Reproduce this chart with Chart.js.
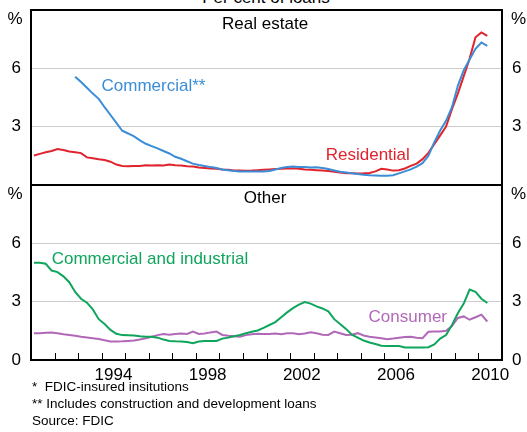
<!DOCTYPE html>
<html>
<head>
<meta charset="utf-8">
<script src="https://cdn.jsdelivr.net/npm/chart.js@4"></script>
<style>
body { margin:0; background:#fff; width:527px; height:432px; overflow:hidden; position:relative; font-family: Arial, "Liberation Sans", sans-serif; }
canvas { position:absolute; left:0; }
#title { position:absolute; top:-11px; left:0; width:532px; text-align:center; font-size:17px; line-height:17px; }
#notes { position:absolute; left:32px; top:378px; font-size:13.5px; line-height:17px; white-space:pre; }
</style>
</head>
<body>
<div id="title">Per cent of loans</div>
<canvas id="topChart" width="527" height="190" style="top:0"></canvas>
<canvas id="bottomChart" width="527" height="230" style="top:175px"></canvas>
<div id="notes">*  FDIC-insured insitutions
** Includes construction and development loans
Source: FDIC</div>
<script>
// quarterly data, first quarter = 1991 Q1
const startYear = 1991;
const labelYears = [1994, 1998, 2002, 2006, 2010];

const residential = [1.52,1.6,1.68,1.75,1.85,1.8,1.72,1.68,1.64,1.42,1.38,1.33,1.29,1.2,1.05,0.98,
  0.97,0.98,0.98,1.02,1.0,1.01,1.0,1.05,1.02,1.0,0.97,0.95,0.9,0.88,0.85,0.84,
  0.8,0.78,0.75,0.74,0.73,0.74,0.76,0.78,0.8,0.82,0.83,0.85,0.86,0.83,0.8,0.78,
  0.76,0.74,0.72,0.68,0.64,0.6,0.6,0.59,0.6,0.62,0.7,0.83,0.8,0.74,0.76,0.85,
  0.98,1.1,1.33,1.65,2.1,2.55,3.0,3.9,4.7,5.6,6.5,7.6,7.85,7.67];

const commercial = [null,null,null,null,null,null,null,5.57,5.3,5.0,4.7,4.43,4.0,3.6,3.2,2.79,
  2.65,2.5,2.3,2.12,2.0,1.88,1.75,1.62,1.45,1.35,1.22,1.1,1.03,0.98,0.92,0.87,
  0.8,0.76,0.72,0.7,0.69,0.69,0.69,0.7,0.72,0.8,0.88,0.93,0.95,0.93,0.92,0.9,
  0.91,0.88,0.82,0.75,0.68,0.64,0.6,0.56,0.53,0.5,0.49,0.48,0.48,0.5,0.6,0.7,
  0.8,0.95,1.12,1.5,2.2,2.8,3.3,4.0,5.1,5.9,6.45,7.0,7.33,7.15];

const industrial = [5.0,5.0,4.95,4.6,4.52,4.3,4.0,3.5,3.15,2.95,2.6,2.1,1.85,1.55,1.35,1.28,
  1.27,1.26,1.22,1.2,1.2,1.15,1.05,0.98,0.96,0.95,0.92,0.86,0.95,0.98,0.98,0.98,
  1.1,1.15,1.22,1.29,1.38,1.45,1.52,1.65,1.8,1.95,2.2,2.45,2.67,2.85,2.98,2.9,
  2.76,2.65,2.5,2.1,1.85,1.6,1.3,1.15,1.0,0.9,0.82,0.73,0.72,0.72,0.72,0.64,
  0.64,0.64,0.64,0.66,0.8,1.1,1.28,1.8,2.4,2.9,3.62,3.5,3.15,2.93];

const consumer = [1.38,1.38,1.4,1.41,1.38,1.32,1.29,1.25,1.2,1.16,1.12,1.08,1.02,0.95,0.95,0.96,
  0.98,1.0,1.05,1.12,1.2,1.28,1.34,1.3,1.34,1.36,1.34,1.46,1.34,1.36,1.42,1.46,
  1.29,1.25,1.22,1.2,1.28,1.32,1.35,1.34,1.34,1.36,1.33,1.38,1.38,1.33,1.36,1.43,
  1.38,1.3,1.29,1.46,1.38,1.29,1.3,1.38,1.26,1.2,1.16,1.12,1.07,1.1,1.14,1.18,
  1.2,1.15,1.12,1.45,1.46,1.47,1.5,1.75,2.16,2.24,2.07,2.2,2.33,1.98];

const BLUE = '#3a8dd6', RED = '#e0242e', GREEN = '#0fa55c', PURPLE = '#b268b8';
const FONT = '17px Arial, "Liberation Sans", sans-serif';

function points(values) {
  return values.map((v, i) => ({ x: startYear + (i + 0.5) / 4, y: v }));
}

function line(data, color) {
  return { data: points(data), borderColor: color, borderWidth: 2, pointRadius: 0, tension: 0, fill: false };
}

//Texte im Diagramm
const textPlugin = {
  id: 'texts',
  afterDraw(chart, args, opts) {
    const c = chart.ctx, x = chart.scales.x, y = chart.scales.y;
    c.save();
    c.font = FONT;
    c.textAlign = 'center';
    c.textBaseline = 'middle';
    opts.items.forEach(function (it) {
      c.fillStyle = it.color;
      c.fillText(it.text, x.getPixelForValue(it.x), y.getPixelForValue(it.y));
    });
    // Prozentzeichen
    c.fillStyle = '#000';
    const py = y.getPixelForValue(9) + 9;
    c.textAlign = 'center';
    c.fillText('%', 15, py);
    c.textAlign = 'left';
    c.fillText('%', chart.chartArea.right + 9, py);
    // Jahresmarken
    if (opts.yearTicks) {
      c.strokeStyle = '#000';
      c.lineWidth = 1;
      const b = chart.chartArea.bottom;
      for (let yr = 1992; yr <= 2010; yr++) {
        const px = Math.round(x.getPixelForValue(yr)) + 0.5;
        c.beginPath();
        c.moveTo(px, b);
        c.lineTo(px, b - 7);
        c.stroke();
      }
    }
    c.restore();
  }
};

function yScales(showZero) {
  const tickCb = function (v) {
    if (v === 9) return '';
    if (v === 0 && !showZero) return '';
    return v;
  };
  const common = {
    min: 0, max: 9,
    ticks: { stepSize: 3, callback: tickCb, color: '#000', font: { size: 17, family: 'Arial, "Liberation Sans", sans-serif' }, padding: 10 },
    border: { color: '#000', width: 2 }
  };
  return {
    y: Object.assign({}, common, {
      position: 'left',
      grid: {
        drawTicks: false,
        color: ctx => (ctx.tick.value === 0 || ctx.tick.value === 9) ? '#000' : '#cccccc',
        lineWidth: ctx => (ctx.tick.value === 0 || ctx.tick.value === 9) ? 2 : 1
      },
      afterFit: function (s) { s.width = 31; s.paddingTop = 0; s.paddingBottom = 0; }
    }),
    y2: Object.assign({}, common, {
      position: 'right',
      grid: { display: false, drawTicks: false },
      afterFit: function (s) { s.width = 25; s.paddingTop = 0; s.paddingBottom = 0; }
    })
  };
}

const topScales = yScales(false);
topScales.x = { type: 'linear', min: 1991, max: 2011, display: false };

new Chart(document.getElementById('topChart'), {
  type: 'line',
  data: { datasets: [line(commercial, BLUE), line(residential, RED)] },
  options: {
    responsive: false, animation: false, devicePixelRatio: 1,
    layout: { padding: { top: 10, bottom: 5, left: 0, right: 0 } },
    scales: topScales,
    plugins: {
      legend: { display: false }, tooltip: { enabled: false },
      texts: { items: [
        { text: 'Real estate', x: 2000.94, y: 8.28, color: '#000' },
        { text: 'Commercial**', x: 1996.2, y: 5.07, color: BLUE },
        { text: 'Residential', x: 2005.3, y: 1.55, color: RED }
      ] }
    }
  },
  plugins: [textPlugin]
});

const bottomScales = yScales(true);
bottomScales.x = {
  type: 'linear', min: 1991, max: 2011,
  grid: { display: false, drawTicks: false },
  border: { display: false },
  afterBuildTicks: function (s) { s.ticks = labelYears.map(v => ({ value: v + 0.5 })); },
  afterFit: function (s) { s.height = 30; s.paddingLeft = 0; s.paddingRight = 0; },
  ticks: {
    autoSkip: false, maxRotation: 0, padding: 5, color: '#000',
    font: { size: 17, family: 'Arial, "Liberation Sans", sans-serif' },
    callback: v => String(Math.floor(v))
  }
};

new Chart(document.getElementById('bottomChart'), {
  type: 'line',
  data: { datasets: [line(industrial, GREEN), line(consumer, PURPLE)] },
  options: {
    responsive: false, animation: false, devicePixelRatio: 1,
    layout: { padding: { top: 10, bottom: 15, left: 0, right: 0 } },
    scales: bottomScales,
    plugins: {
      legend: { display: false }, tooltip: { enabled: false },
      texts: { yearTicks: true, items: [
        { text: 'Other', x: 2000.94, y: 8.33, color: '#000' },
        { text: 'Commercial and industrial', x: 1996.05, y: 5.17, color: GREEN },
        { text: 'Consumer', x: 2007.0, y: 2.22, color: PURPLE }
      ] }
    }
  },
  plugins: [textPlugin]
});
</script>
</body>
</html>
